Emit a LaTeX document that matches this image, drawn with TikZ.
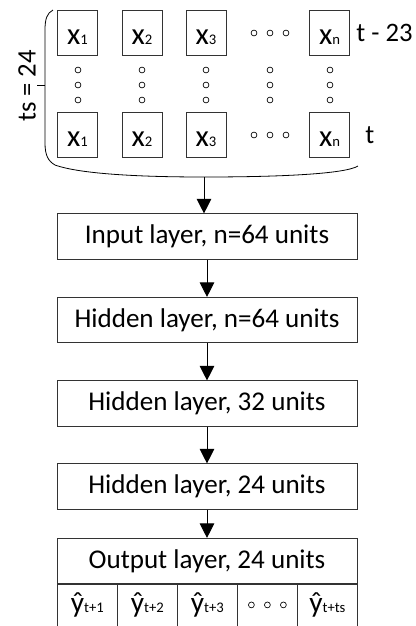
\documentclass[tikz,border=0pt]{standalone}
\usepackage{fontspec}
\setmainfont{Carlito}
\usetikzlibrary{arrows.meta}

\newcommand{\idx}[1]{{\fontsize{11}{11}\selectfont #1}}

\begin{document}
\begin{tikzpicture}[x=0.75pt,y=-0.75pt,line width=0.6pt,
xbox/.style={draw=black!80,minimum width=30pt,minimum height=33.75pt,inner sep=0pt,text height=19pt,text depth=0.5pt,font=\fontsize{23}{23}\selectfont},
layer/.style={draw=black!80,minimum width=225pt,minimum height=34pt,inner sep=0pt,font=\fontsize{20.3}{20.3}\selectfont},
ycell/.style={draw=black!80,minimum width=45pt,minimum height=31.5pt,inner sep=0pt,font=\fontsize{22}{22}\selectfont},
arr/.style={-{Triangle[width=11pt,length=11pt]},line width=0.75pt},
dot/.style={line width=0.5pt}]
\useasboundingbox (0,0) rectangle (416,626);
\foreach \c/\px/\s in {1/77.5/1,2/142/2,3/206/3,4/329.5/n} {
  \node[xbox] (xt\c) at (\px,32.5) {x\idx{\s}};
  \node[xbox] (xb\c) at (\px,134.5) {x\idx{\s}};
}
\foreach \py in {33,135} \foreach \dx in {-16,0,16} \draw[dot] (270+\dx,\py) circle (2.2pt);
\foreach \px in {78,142,206,270,330} \foreach \py in {70,85,100} \draw[dot] (\px,\py) circle (2.2pt);
\node[anchor=west,inner sep=0pt,font=\fontsize{20}{20}\selectfont] (ttop) at (356,33) {t - 23};
\node[anchor=west,inner sep=0pt,font=\fontsize{20}{20}\selectfont] (tbot) at (365,135) {t};
\draw (53,10) .. controls (47,13) and (45,19) .. (45,30) -- (45,143)
  .. controls (45,155) and (48,161) .. (55,165)
  .. controls (80,174) and (140,177) .. (204,177)
  .. controls (280,177) and (345,174) .. (358,166);
\coordinate (brace) at (204,177);
\coordinate (tick) at (37,85);
\draw (tick) -- (45,85);
\node[rotate=90,inner sep=0pt,font=\fontsize{20}{20}\selectfont] (ts) at (27,86) {ts = 24};
\node[layer] (in) at (207,236.5) {Input layer, n=64 units};
\node[layer] (h1) at (207,320) {Hidden layer, n=64 units};
\node[layer] (h2) at (207,403.5) {Hidden layer, 32 units};
\node[layer] (h3) at (207,486.5) {Hidden layer, 24 units};
\node[layer] (out) at (207,561) {Output layer, 24 units};
\foreach \c/\s in {1/1,2/2,3/3,4/,5/ts} {
  \node[ycell,anchor=north west] (y\c) at (57+60*\c-60,583.5) {\ifx\s\empty\else ŷ\idx{t+\s}\fi};
}
\foreach \dx in {-16,0,16} \draw[dot] ([xshift=\dx*0.75pt]y4.center) circle (2.2pt);
\draw[arr] (brace) -- (brace |- in.north);
\draw[arr] (in) -- (h1);
\draw[arr] (h1) -- (h2);
\draw[arr] (h2) -- (h3);
\draw[arr] (h3) -- (out);
\end{tikzpicture}
\end{document}
